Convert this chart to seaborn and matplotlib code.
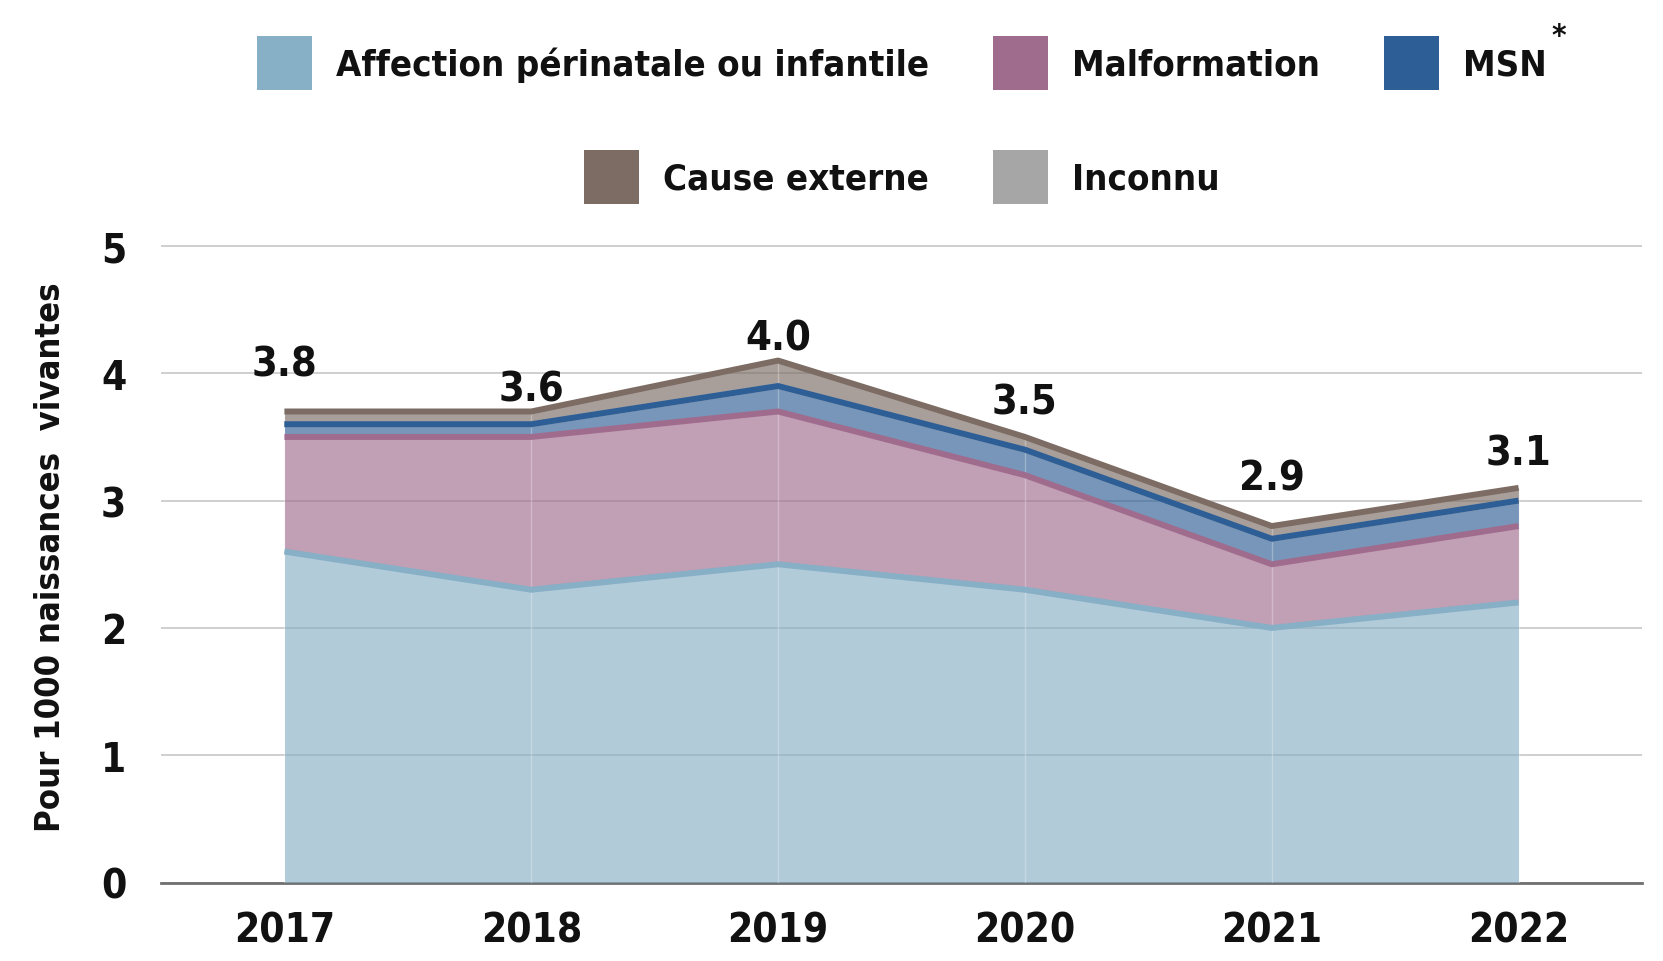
import os
import numpy as np
import pandas as pd
import matplotlib
matplotlib.use("Agg")
import matplotlib.pyplot as plt
import matplotlib.font_manager as fm
from matplotlib.patches import Patch
import seaborn as sns

# ---------------- data ----------------
years = [2017, 2018, 2019, 2020, 2021, 2022]
affection = [2.6, 2.3, 2.5, 2.3, 2.0, 2.2]
malformation = [0.9, 1.2, 1.2, 0.9, 0.5, 0.6]
msn = [0.1, 0.1, 0.2, 0.2, 0.2, 0.2]
inconnu = [0.0, 0.0, 0.0, 0.0, 0.0, 0.0]
cause_externe = [0.1, 0.1, 0.2, 0.1, 0.1, 0.1]
total_labels = [3.8, 3.6, 4.0, 3.5, 2.9, 3.1]
year_labels = ["2017", "2018", "2019", "2020", "2021", "2022"]
y_ticks = [0, 1, 2, 3, 4, 5]
names = ["Affection périnatale ou infantile", "Malformation", "MSN",
         "Cause externe", "Inconnu"]
y_title = "Pour 1000 naissances  vivantes"

colors = {
    "Affection périnatale ou infantile": "#87AFC6",
    "Malformation": "#A06C8E",
    "MSN": "#2E5E96",
    "Cause externe": "#7C6C64",
    "Inconnu": "#A6A6A6",
}
stack_series = [("Affection périnatale ou infantile", affection),
                ("Malformation", malformation),
                ("MSN", msn),
                ("Inconnu", inconnu),
                ("Cause externe", cause_externe)]

# ---------------- fonts ----------------
sns.set_theme(style="white")


def pick_font(want_weight):
    best, best_key = None, None
    ok_prefix = ("notosans-", "notosansdisplay-", "liberationsansnarrow",
                 "dejavusanscondensed", "opensans", "roboto", "lato", "inter")
    for f in fm.fontManager.ttflist:
        base = os.path.basename(f.fname).lower()
        s = (base + " " + f.name + " " + str(f.stretch)).lower()
        s = s.replace(" ", "").replace("-", "").replace("_", "")
        if not base.replace("_", "").startswith(ok_prefix):
            continue
        if any(k in s for k in ("italic", "oblique", "mono", "cjk", "symbol",
                                "math", "emoji", "[")):
            continue
        if "extracondensed" in s or "ultracondensed" in s:
            width = 3
        elif "semicondensed" in s:
            width = 1
        elif "condensed" in s or "narrow" in s:
            width = 2
        else:
            width = 0
        if width == 0:
            continue
        try:
            w = int(f.weight)
        except Exception:
            w = {"bold": 700, "semibold": 600, "medium": 500}.get(str(f.weight), 400)
        fam = 1 if base.startswith("notosans-") else 0
        key = (width, -abs(w - want_weight), fam)
        if best_key is None or key > best_key:
            best_key, best = key, f.fname
    return best


reg_path = pick_font(600)
bold_path = pick_font(700)


def FP(path, size, weight="semibold"):
    if path:
        return fm.FontProperties(fname=path, size=size)
    return fm.FontProperties(family="DejaVu Sans", weight=weight,
                             stretch="condensed", size=size)


W, H = 1663, 962
fig = plt.figure(figsize=(W / 100, H / 100), dpi=100)
renderer = fig.canvas.get_renderer()


def text_w(s, fp):
    t = fig.text(0, 0, s, fontproperties=fp)
    w = t.get_window_extent(renderer).width
    t.remove()
    return w


S = 40 * 570 / text_w(names[0], FP(reg_path, 40))
S = min(S, 44)
S_leg = min(S * 1.04, 44)
S_tick = min(S * 1.15, 44)
S_lab = min(S * 1.18, 46)
S_yl = min(S * 0.98, 44)

# ---------------- axes ----------------
ax_l, ax_r, ax_b = 161, 1642, 883.5
ax_t = 883.5 - 5.02 * 127.3
ax = fig.add_axes([ax_l / W, 1 - ax_b / H, (ax_r - ax_l) / W, (ax_b - ax_t) / H])

base = np.zeros(len(years))
tops = {}
for name, vals in stack_series:
    top = base + np.array(vals)
    ax.fill_between(years, base, top, color=colors[name], alpha=0.65,
                    linewidth=0, zorder=2)
    tops[name] = top
    base = top
total = base

ax.vlines(years, 0, total, colors="white", alpha=0.28, linewidth=1, zorder=2.2)

line_order = ["Inconnu", "Affection périnatale ou infantile", "Malformation",
              "MSN", "Cause externe"]
for name in line_order:
    df = pd.DataFrame({"year": years, "value": tops[name]})
    sns.lineplot(data=df, x="year", y="value", color=colors[name],
                 linewidth=4.3, ax=ax, zorder=3, solid_capstyle="butt")

for x, lab in zip(years, total_labels):
    ax.annotate(f"{lab:.1f}", xy=(x, lab), xytext=(0, 17),
                textcoords="offset points", ha="center", va="baseline",
                fontproperties=FP(bold_path, S_lab, "bold"), color="#111111",
                zorder=5)

ax.set_xlim(2016.5, 2022.5)
ax.set_ylim(0, 5.02)
ax.set_xticks(years)
ax.set_xticklabels(year_labels, fontproperties=FP(reg_path, S_tick))
ax.set_yticks(y_ticks)
ax.set_yticklabels([str(v) for v in y_ticks], fontproperties=FP(reg_path, S_tick))
ax.tick_params(axis="x", length=0, pad=20, colors="#111111")
ax.tick_params(axis="y", length=0, pad=25, colors="#111111")
ax.set_xlabel("")
ax.set_ylabel(y_title, fontproperties=FP(reg_path, S_yl), color="#111111",
              va="center")
ax.yaxis.set_label_coords((51 - ax_l) / (ax_r - ax_l), (ax_b - 557) / (ax_b - ax_t))

ax.yaxis.grid(True, color="#cccccc", linewidth=1.3)
ax.xaxis.grid(False)
ax.set_axisbelow(True)
for sp in ("left", "top", "right"):
    ax.spines[sp].set_visible(False)
ax.spines["bottom"].set_color("#707070")
ax.spines["bottom"].set_linewidth(2)
ax.spines["bottom"].set_zorder(1)

# ---------------- legend ----------------
fs_px = S_leg * 100 / 72
handles = [Patch(facecolor=colors[n], edgecolor="none") for n in names]
cx = ((ax_l + ax_r) / 2) / W
common = dict(loc="center", frameon=False, prop=FP(reg_path, S_leg),
              handlelength=55 / fs_px, handleheight=55 * 1.24 / fs_px,
              handletextpad=24 / fs_px, columnspacing=64 / fs_px,
              borderpad=0, borderaxespad=0)
leg1 = fig.legend(handles[:3], names[:3], ncol=3,
                  bbox_to_anchor=(cx, 1 - 64 / H), **common)
leg2 = fig.legend(handles[3:], names[3:], ncol=2,
                  bbox_to_anchor=(cx, 1 - 178 / H), **common)
for lg in (leg1, leg2):
    for t in lg.get_texts():
        t.set_color("#111111")

fig.canvas.draw()
bb = leg1.get_texts()[2].get_window_extent(renderer)
fig.text((bb.x1 + 5) / W, (bb.y1 + 12) / H, "*", ha="left", va="center",
         fontproperties=FP(reg_path, S_leg * 0.85), color="#111111")

fig.savefig("out.png", dpi=100)
